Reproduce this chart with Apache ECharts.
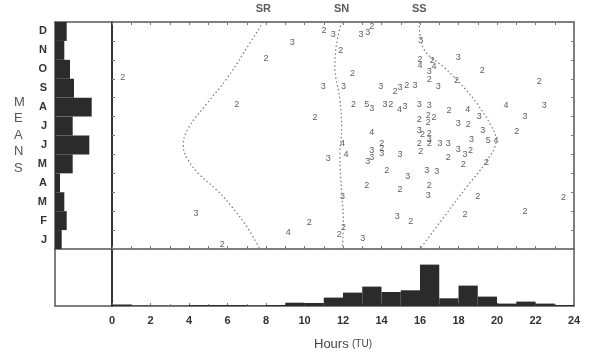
<!DOCTYPE html>
<html><head><meta charset="utf-8">
<script src="https://cdn.jsdelivr.net/npm/echarts@6/dist/echarts.min.js"></script>
<style>html,body{margin:0;padding:0;background:#fff}#c{width:600px;height:361px}</style>
</head><body><div id="c"></div>
<script>
// Months (bottom = January, top = December)
const monthNames = ['Jan','Feb','Mar','Apr','May','Jun','Jul','Aug','Sep','Oct','Nov','Dec'];
const monthLetters = ['J','F','M','A','M','J','J','A','S','O','N','D'];
// Monthly means histogram (left panel), Jan..Dec
const monthCounts = [6.7, 11.7, 9.3, 5, 17.7, 34.3, 17.7, 36.7, 19, 15, 9.3, 11.7];
// Hourly histogram (bottom panel), hour bins 0-1 ... 23-24
const hourCounts = [1.5, 0.5, 0.3, 0.3, 1, 1, 1, 0.5, 1, 3.3, 3, 8.4, 13.4, 19.4, 14, 15.7, 41.4, 7.7, 20.4, 9.4, 2.4, 4.4, 2.4, 1];
const hourTicks = [0,2,4,6,8,10,12,14,16,18,20,22,24];
// Observations: [hour UT, month position (0=Jan 1, 12=Dec 31), number]
const observations = [
 [0.56,9.04,2],[9.37,10.94,3],[8.0,10.06,2],[6.48,7.66,2],[4.36,1.90,3],[9.16,0.88,4],[5.73,0.26,2],
 [11.01,11.54,2],[11.50,11.36,3],[12.94,11.36,3],[13.28,11.42,3],[13.49,11.77,2],[11.88,10.48,2],[16.04,11.01,3],
 [12.5,9.3,2],[10.98,8.6,3],[12.02,8.6,3],[13.96,8.6,3],[14.7,8.33,2],[14.96,8.55,3],[15.31,8.65,2],[15.74,8.65,3],
 [16.0,10.0,2],[16.0,9.7,4],[16.64,9.95,2],[16.73,9.66,4],[16.48,9.39,3],[16.48,8.95,2],[16.95,8.6,3],
 [12.54,7.63,2],[13.23,7.66,5],[13.49,7.42,3],[14.18,7.66,3],[14.48,7.66,2],[14.93,7.36,4],[15.22,7.54,3],[15.96,7.66,3],[16.48,7.59,3],
 [10.55,6.96,2],[15.96,6.83,2],[16.43,7.07,2],[16.43,6.71,2],[16.73,6.96,2],[15.96,6.25,3],[13.49,6.18,4],
 [17.99,10.1,3],[19.24,9.44,2],[17.9,8.9,2],[22.2,8.86,2],[20.47,7.59,4],[22.46,7.59,3],[17.51,7.31,2],[18.48,7.36,4],
 [19.08,7.01,3],[21.45,7.01,3],[17.99,6.61,3],[18.51,6.57,2],[19.26,6.25,3],[21.02,6.22,2],
 [17.04,5.6,3],[17.47,5.6,3],[18.68,5.78,3],[19.55,5.73,5],[19.95,5.73,4],[17.99,5.25,3],[18.34,5.02,3],[18.63,5.2,2],
 [17.47,4.81,2],[18.25,4.49,2],[19.46,4.55,2],[16.87,4.11,3],[19.0,2.79,2],[23.45,2.7,2],[18.34,1.81,2],[21.45,1.99,2],
 [16.13,6.03,2],[16.48,6.13,2],[16.48,5.81,3],[15.96,5.59,2],[16.48,5.59,2],[16.04,5.14,2],
 [11.98,5.6,4],[12.16,5.02,4],[11.24,4.77,3],[13.49,5.2,3],[14.01,5.55,2],[14.01,5.3,2],[14.01,5.07,3],[13.49,4.85,3],
 [13.28,4.64,3],[14.96,5.02,3],[14.27,4.14,2],[15.36,3.84,3],[16.35,4.14,3],[13.23,3.37,2],[14.96,3.13,2],[16.48,3.37,2],
 [16.43,2.84,3],[11.98,2.79,3],[14.82,1.73,3],[15.52,1.43,2],[10.25,1.41,2],[12.02,1.11,2],[11.81,0.79,2],[13.02,0.53,3]
];
// Sunrise / solar noon / sunset curves: [hour UT, month position]
const sunrise = [[7.86,12.0],[6.82,10.34],[5.96,9.0],[4.92,7.68],[3.96,6.38],[3.70,5.5],[3.96,4.7],[4.57,3.91],[5.44,3.12],[6.22,2.24],[7.0,1.18],[7.69,0.0]];
const noon = [[11.93,12.0],[11.67,10.87],[11.58,9.64],[11.84,7.88],[11.93,6.38],[11.84,5.06],[11.93,2.94],[12.02,1.53],[11.97,0.0]];
const sunset = [[15.96,12.0],[16.04,11.05],[16.35,10.34],[17.21,9.64],[18.08,8.76],[18.95,7.70],[19.72,6.46],[19.95,5.76],[19.38,4.53],[18.43,3.29],[17.39,1.89],[16.0,0.0]];
const curveLabels = [['SR',7.86,12],['SN',11.93,12],['SS',15.96,12]];

const font = '"Liberation Sans", Arial, sans-serif';
const lineCol = '#555';
const chart = echarts.init(document.getElementById('c'), null, {renderer:'canvas'});
const hidden = {show:false};
function frameAxis(extra){
  return Object.assign({
    axisLine:{show:true,onZero:false,lineStyle:{color:lineCol,width:1.5}},
    axisTick:{show:true,inside:true,length:3,lineStyle:{color:'#777'}},
    axisLabel:{show:false}, splitLine:{show:false}
  }, extra);
}
const option = {
  animation:false,
  backgroundColor:'#fff',
  grid:[
    {left:112, top:22, width:462, height:227},
    {left:112, top:249, width:462, height:57},
    {left:55, top:22, width:57, height:227}
  ],
  xAxis:[
    frameAxis({gridIndex:0,type:'value',min:0,max:24,interval:1,position:'bottom'}),
    frameAxis({gridIndex:0,type:'value',min:0,max:24,interval:1,position:'top'}),
    {gridIndex:1,type:'value',min:0,max:24,interval:2,position:'bottom',
      axisLine:{show:true,onZero:false,lineStyle:{color:lineCol,width:1.5}},
      axisTick:{show:true,inside:true,length:3,lineStyle:{color:'#777'}},
      minorTick:{show:true,splitNumber:2,length:2,lineStyle:{color:'#888'}},
      splitLine:{show:false},
      axisLabel:{show:true,margin:9,fontSize:11,fontWeight:'bold',color:'#333',fontFamily:font},
      name:'{a|Hours} {b|(TU)}', nameLocation:'middle', nameGap:32,
      nameTextStyle:{rich:{a:{fontSize:13,color:'#444',fontFamily:font},b:{fontSize:10,color:'#444',fontFamily:font}}}},
    {gridIndex:2,type:'value',min:0,max:57,position:'top',
      axisLine:{show:true,onZero:false,lineStyle:{color:lineCol,width:1.5}},axisTick:hidden,axisLabel:hidden,splitLine:hidden},
    {gridIndex:2,type:'value',min:0,max:57,position:'bottom',
      axisLine:{show:true,onZero:false,lineStyle:{color:lineCol,width:1.5}},axisTick:hidden,axisLabel:hidden,splitLine:hidden}
  ],
  yAxis:[
    frameAxis({gridIndex:0,type:'value',min:0,max:12,interval:1,position:'left',axisLine:{show:true,onZero:false,lineStyle:{color:'#333',width:2}}}),
    frameAxis({gridIndex:0,type:'value',min:0,max:12,interval:1,position:'right'}),
    {gridIndex:1,type:'value',min:0,max:57,position:'left',
      axisLine:{show:true,onZero:false,lineStyle:{color:'#333',width:2}},axisTick:hidden,axisLabel:hidden,splitLine:hidden},
    {gridIndex:1,type:'value',min:0,max:57,position:'right',
      axisLine:{show:true,onZero:false,lineStyle:{color:lineCol,width:1.5}},axisTick:hidden,axisLabel:hidden,splitLine:hidden},
    {gridIndex:2,type:'category',data:monthNames,position:'left',
      axisLine:{show:true,onZero:false,lineStyle:{color:lineCol,width:1.5}},axisTick:hidden,splitLine:hidden,
      axisLabel:{show:true,margin:8,fontSize:11,fontWeight:'bold',color:'#333',fontFamily:font,
        formatter:(v,i)=>monthLetters[i]}}
  ],
  series:[
    {type:'bar', xAxisIndex:3, yAxisIndex:4, data:monthCounts, barWidth:'100%', barCategoryGap:'0%',
      itemStyle:{color:'#2b2b2b'}, silent:true},
    {type:'custom', xAxisIndex:2, yAxisIndex:2, data:hourCounts.map((v,i)=>[i,v]),
      renderItem:(params, api)=>{
        const h = api.value(0), v = api.value(1);
        const p0 = api.coord([h,0]), p1 = api.coord([h+1,v]);
        return {type:'rect', shape:{x:p0[0], y:p1[1], width:p1[0]-p0[0], height:p0[1]-p1[1]}, style:{fill:'#2b2b2b'}};
      }},
    ...[sunrise,noon,sunset].map(d=>({type:'line', xAxisIndex:0, yAxisIndex:0, data:d, smooth:0.4, symbol:'none',
      lineStyle:{type:[1.5,2.5],color:'#777',width:1.2}})),
    {type:'scatter', xAxisIndex:0, yAxisIndex:0, data:observations, symbolSize:1,
      itemStyle:{color:'rgba(0,0,0,0)'},
      label:{show:true, position:'inside', formatter:p=>String(p.value[2]), fontSize:9, color:'#333', fontFamily:font}},
    {type:'scatter', xAxisIndex:0, yAxisIndex:0, data:curveLabels.map(c=>[c[1],c[2],c[0]]), symbolSize:1, clip:false,
      itemStyle:{color:'rgba(0,0,0,0)'},
      label:{show:true, position:'inside', offset:[0,-13], formatter:p=>p.value[2], fontSize:11, fontWeight:'bold', color:'#333', fontFamily:font}}
  ],
  graphic:[
    {type:'polyline', shape:{points:[[55,249],[55,306],[112,306]]}, style:{stroke:lineCol, lineWidth:1.5, fill:null}},
    {type:'text', left:14, top:94, style:{text:'M\nE\nA\nN\nS', font:'13px '+font, fill:'#555', lineHeight:16.5, align:'center'}}
  ]
};
chart.setOption(option);
</script></body></html>
